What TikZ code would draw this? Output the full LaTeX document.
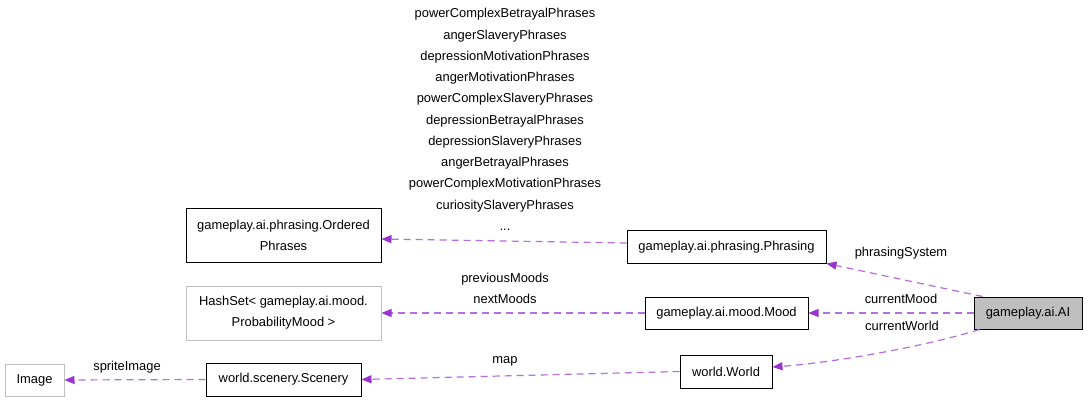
\documentclass[tikz,border=0pt]{standalone}
\usepackage{fontspec}
\setmainfont{Liberation Sans}
\usetikzlibrary{arrows.meta}
\definecolor{edgec}{HTML}{9A32CD}
\definecolor{edgel}{HTML}{B56EE0}
\definecolor{greyb}{HTML}{BFBFBF}
\begin{document}
\begin{tikzpicture}[x=1pt,y=-1pt,
  every node/.style={font=\fontsize{12.9}{21.25}\selectfont, inner sep=0pt},
  cls/.style={draw=black, line width=1pt, rectangle, align=center},
  ext/.style={draw=greyb, line width=1pt, rectangle, align=center},
  rel/.style={draw=edgel, line width=1.2pt, dash pattern=on 7pt off 5pt, -{Triangle[length=10pt,width=8pt,color=edgec]}},
  lbl/.style={align=center}]
\useasboundingbox (0,0) rectangle (1088,401);
\fill[white] (0,0) rectangle (1088,401);
% nodes
\node[cls, fill=greyb, minimum width=108pt, minimum height=32pt] (AI) at (1028,313) {gameplay.ai.AI};
\node[cls, minimum width=199pt, minimum height=32pt] (Phrasing) at (726.5,247) {gameplay.ai.phrasing.Phrasing};
\node[cls, minimum width=163pt, minimum height=32pt] (Mood) at (726.5,313) {gameplay.ai.mood.Mood};
\node[cls, minimum width=92pt, minimum height=33pt] (World) at (726,371.5) {world.World};
\node[cls, minimum width=195pt, minimum height=53pt] (Ordered) at (283.5,235.5) {gameplay.ai.phrasing.Ordered\\Phrases};
\node[ext, minimum width=195pt, minimum height=54pt] (HashSet) at (283.5,313) {HashSet< gameplay.ai.mood.\\ProbabilityMood >};
\node[cls, minimum width=155pt, minimum height=33pt] (Scenery) at (283.5,379.5) {world.scenery.Scenery};
\node[ext, minimum width=59pt, minimum height=32pt] (Image) at (34.5,380) {Image};
% edges
\draw[rel] ([xshift=9pt]AI.north west) -- (Phrasing.south east);
\draw[rel] (AI.west) -- (Mood.east);
\draw[rel] ([xshift=6pt]AI.south west) .. controls (930,345) and (840,362) .. ([yshift=4.5pt]World.east);
\draw[rel] ([yshift=4pt]Phrasing.west) -- ([yshift=-3.5pt]Ordered.east);
\draw[rel] (Mood.west) -- (HashSet.east);
\draw[rel] (World.west) -- (Scenery.east);
\draw[rel] (Scenery.west) -- (Image.east);
% labels
\node[lbl] (lPhr) at (901,253) {phrasingSystem};
\node[lbl] (lMood) at (901,299) {currentMood};
\node[lbl] (lWorld) at (902,326) {currentWorld};
\node[lbl] (lMoods) at (505,288.5) {previousMoods\\nextMoods};
\node[lbl] (lMap) at (505,361) {map};
\node[lbl] (lSprite) at (127,367) {spriteImage};
\node[lbl] (lPhrases) at (505,119.5) {powerComplexBetrayalPhrases\\angerSlaveryPhrases\\depressionMotivationPhrases\\angerMotivationPhrases\\powerComplexSlaveryPhrases\\depressionBetrayalPhrases\\depressionSlaveryPhrases\\angerBetrayalPhrases\\powerComplexMotivationPhrases\\curiositySlaveryPhrases\\...};
\end{tikzpicture}
\end{document}
